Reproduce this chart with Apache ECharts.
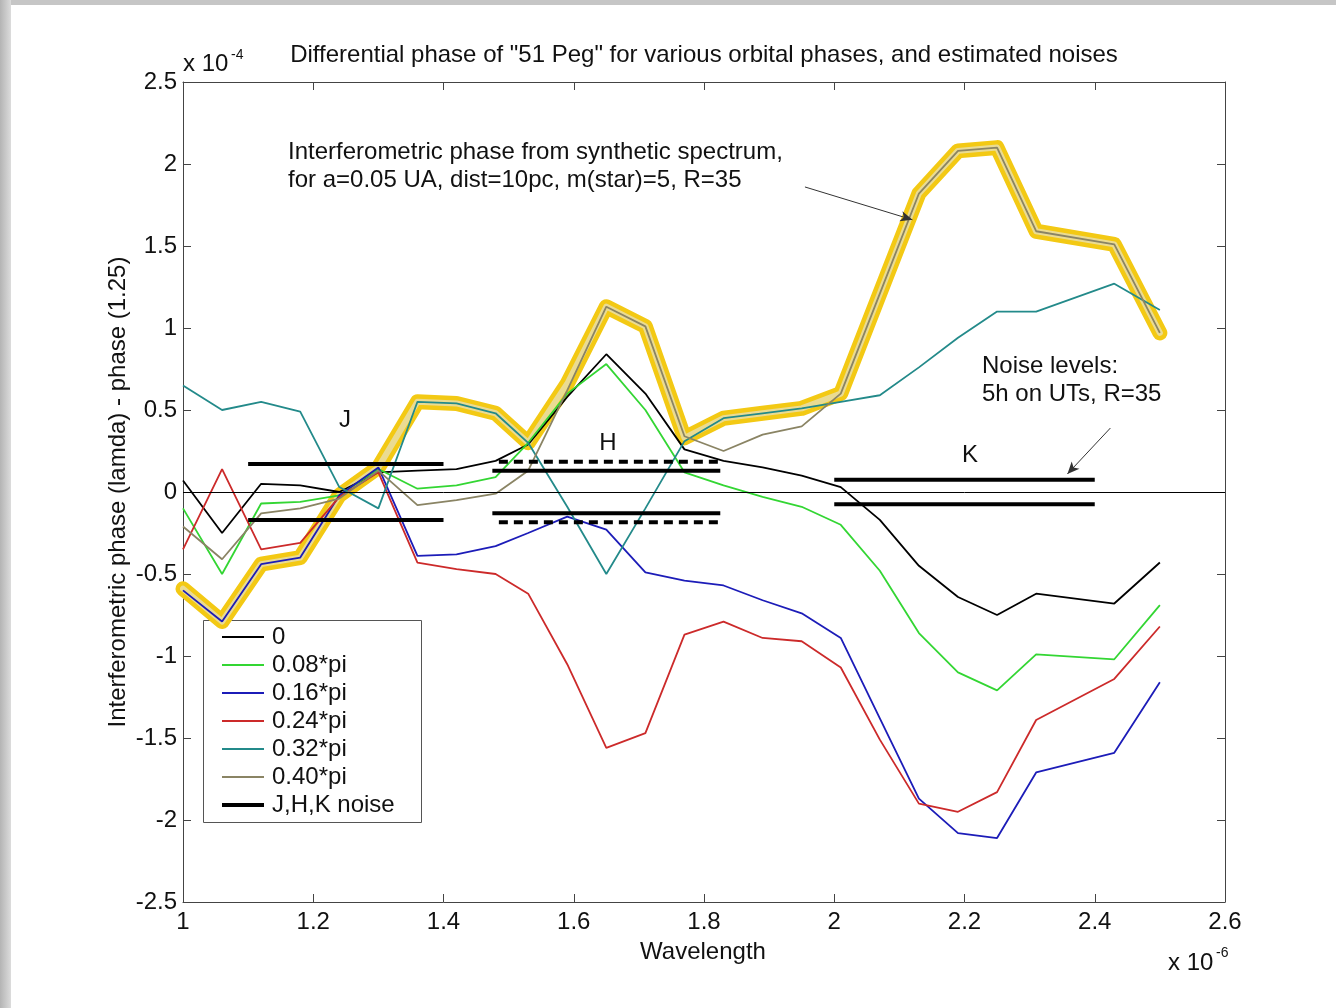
<!DOCTYPE html>
<html>
<head>
<meta charset="utf-8">
<script src="https://cdn.jsdelivr.net/npm/echarts@6/dist/echarts.min.js"></script>
<style>
  html, body { margin: 0; padding: 0; background: #fff; }
  #chart { width: 1336px; height: 1008px; }
</style>
</head>
<body>
<div id="chart"></div>
<script>
// wavelength samples (x 1e-6 m)
const wavelength = [1.00, 1.06, 1.12, 1.18, 1.24, 1.30, 1.36, 1.42, 1.48, 1.53, 1.59, 1.65, 1.71,
                    1.77, 1.83, 1.89, 1.95, 2.01, 2.07, 2.13, 2.19, 2.25, 2.31, 2.43, 2.50];

// differential phase (x 1e-4) for each orbital phase
const phase0   = [0.07, -0.25, 0.05, 0.04, 0.00, 0.12, 0.13, 0.14, 0.19, 0.29, 0.58, 0.84, 0.60,
                  0.26, 0.19, 0.15, 0.10, 0.03, -0.17, -0.45, -0.64, -0.75, -0.62, -0.68, -0.43];
const phase008 = [-0.10, -0.50, -0.07, -0.06, -0.02, 0.14, 0.02, 0.04, 0.09, 0.30, 0.60, 0.78, 0.50,
                  0.12, 0.04, -0.03, -0.09, -0.20, -0.48, -0.86, -1.10, -1.21, -0.99, -1.02, -0.69];
const phase016 = [-0.60, -0.79, -0.44, -0.40, -0.02, 0.15, -0.39, -0.38, -0.33, -0.25, -0.15, -0.23, -0.49,
                  -0.54, -0.57, -0.66, -0.74, -0.89, -1.38, -1.87, -2.08, -2.11, -1.71, -1.59, -1.16];
const phase024 = [-0.35, 0.14, -0.35, -0.31, -0.03, 0.12, -0.43, -0.47, -0.50, -0.62, -1.05, -1.56, -1.47,
                  -0.87, -0.79, -0.89, -0.91, -1.07, -1.51, -1.90, -1.95, -1.83, -1.39, -1.14, -0.82];
const phase032 = [0.65, 0.50, 0.55, 0.49, 0.03, -0.10, 0.55, 0.54, 0.48, 0.30, -0.09, -0.50, -0.10,
                  0.31, 0.45, 0.48, 0.51, 0.55, 0.59, 0.76, 0.94, 1.10, 1.10, 1.27, 1.11];
const phase040 = [-0.21, -0.41, -0.13, -0.10, -0.04, 0.13, -0.08, -0.05, -0.01, 0.13, 0.62, 1.13, 1.01,
                  0.34, 0.25, 0.35, 0.40, 0.60, 1.21, 1.82, 2.08, 2.10, 1.59, 1.51, 0.97];
// hand drawn yellow highlight ("synthetic spectrum" phase)
const highlight = [-0.59, -0.79, -0.44, -0.40, -0.02, 0.15, 0.55, 0.54, 0.48, 0.30, 0.66, 1.13, 1.01,
                   0.33, 0.45, 0.48, 0.51, 0.60, 1.21, 1.82, 2.08, 2.10, 1.59, 1.51, 0.97];

const seriesNames = ['0', '0.08*pi', '0.16*pi', '0.24*pi', '0.32*pi', '0.40*pi'];
const seriesColors = ['#000000', '#33d633', '#1c1cb8', '#cc2a2a', '#238a8a', '#8a8464'];

// noise bands: [start, end] wavelength and level
const jBand = [1.10, 1.40];       const jNoise = 0.17;
const hBand = [1.475, 1.825];     const hNoise = 0.13;
const hBandDashed = [1.485, 1.825]; const hNoiseDashed = 0.185;
const kBand = [2.00, 2.40];       const kNoise = 0.075;

const xTicks = { min: 1, max: 2.6, step: 0.2 };
const yTicks = { min: -2.5, max: 2.5, step: 0.5 };

const FONT = '"Liberation Sans", Arial, sans-serif';

const pts = ys => wavelength.map((x, i) => [x, ys[i]]);
const band = (range, level, dashed) => ({
  name: 'J,H,K noise',
  type: 'line',
  data: [[range[0], level], [range[1], level]],
  showSymbol: false,
  silent: true,
  z: 4,
  lineStyle: { color: '#000', width: 4, type: dashed ? [9, 6] : 'solid' },
  itemStyle: { color: '#000' }
});

const chart = echarts.init(document.getElementById('chart'), null, { renderer: 'canvas' });

const series = [
  {
    name: 'highlight', type: 'line', data: pts(highlight), showSymbol: false, silent: true, z: 1,
    lineStyle: { color: '#f3c914', width: 15, join: 'round', cap: 'round' }
  },
  {
    name: 'highlight-in', type: 'line', data: pts(highlight), showSymbol: false, silent: true, z: 1,
    lineStyle: { color: '#eadb92', width: 6, join: 'round', cap: 'round' }
  }
];

[phase0, phase008, phase016, phase024, phase032, phase040].forEach((ys, i) => {
  series.push({
    name: seriesNames[i], type: 'line', data: pts(ys), showSymbol: false, silent: true, z: 3,
    lineStyle: { color: seriesColors[i], width: 1.8 },
    itemStyle: { color: seriesColors[i] }
  });
});

// zero line
series[2].markLine = {
  silent: true, symbol: 'none', label: { show: false },
  lineStyle: { color: '#000', width: 1, type: 'solid' },
  data: [{ yAxis: 0 }]
};
// annotation arrows
series[7].markLine = {
  silent: true, symbol: ['none', 'arrow'], symbolSize: [8, 12], label: { show: false },
  lineStyle: { color: '#333', width: 1, type: 'solid' },
  data: [
    [{ coord: [1.955, 1.86] }, { coord: [2.12, 1.66] }],
    [{ coord: [2.424, 0.39] }, { coord: [2.358, 0.11] }]
  ]
};

series.push(band(jBand, jNoise), band(jBand, -jNoise),
            band(hBand, hNoise), band(hBand, -hNoise),
            band(hBandDashed, hNoiseDashed, true), band(hBandDashed, -hNoiseDashed, true),
            band(kBand, kNoise), band(kBand, -kNoise));

const axisCommon = {
  type: 'value',
  axisLine: { show: true, onZero: false, lineStyle: { color: '#444', width: 1 } },
  axisTick: { show: true, inside: true, length: 8, lineStyle: { color: '#444' } },
  splitLine: { show: false }
};
const txt = (text, x, y, opts) => ({
  type: 'text', x, y, silent: true,
  style: Object.assign({ text, font: '24px ' + FONT, fill: '#111', textAlign: 'left', textVerticalAlign: 'middle' }, opts || {})
});

const legendText = { fontSize: 24, fontFamily: FONT, color: '#111', lineHeight: 24, padding: [0, 0, 0, 3] };

chart.setOption({
  animation: false,
  backgroundColor: '#ffffff',
  grid: { left: 183, top: 82, right: 111, bottom: 106 },
  xAxis: [
    Object.assign({}, axisCommon, {
      position: 'bottom', min: xTicks.min, max: xTicks.max, interval: xTicks.step,
      axisLabel: { fontSize: 24, fontFamily: FONT, color: '#111', margin: 8,
                   formatter: v => String(+v.toFixed(1)) }
    }),
    Object.assign({}, axisCommon, {
      position: 'top', min: xTicks.min, max: xTicks.max, interval: xTicks.step,
      axisLabel: { show: false }
    })
  ],
  yAxis: [
    Object.assign({}, axisCommon, {
      position: 'left', min: yTicks.min, max: yTicks.max, interval: yTicks.step,
      axisLabel: { fontSize: 24, fontFamily: FONT, color: '#111', margin: 6,
                   formatter: v => String(+v.toFixed(1)) }
    }),
    Object.assign({}, axisCommon, {
      position: 'right', min: yTicks.min, max: yTicks.max, interval: yTicks.step,
      axisLabel: { show: false }
    })
  ],
  legend: [
    {
      data: seriesNames, orient: 'vertical', left: 217, top: 620,
      icon: 'rect', itemWidth: 42, itemHeight: 2, itemGap: 4,
      textStyle: legendText, selectedMode: false
    },
    {
      data: ['J,H,K noise'], orient: 'vertical', left: 217, top: 788,
      icon: 'rect', itemWidth: 42, itemHeight: 4, itemGap: 4,
      textStyle: legendText, selectedMode: false
    }
  ],
  graphic: [
    { type: 'rect', shape: { x: 0, y: 0, width: 1336, height: 5 }, style: { fill: '#c6c6c6' }, silent: true },
    { type: 'rect', shape: { x: 0, y: 0, width: 11, height: 1008 }, silent: true,
      style: { fill: new echarts.graphic.LinearGradient(0, 0, 1, 0, [
        { offset: 0, color: '#b4b4b4' }, { offset: 1, color: '#dcdcdc' }]) } },
    { type: 'rect', shape: { x: 203.5, y: 620.5, width: 218, height: 202 }, silent: true,
      style: { fill: 'none', stroke: '#555', lineWidth: 1 } },
    txt('Differential phase of "51 Peg" for various orbital phases, and estimated noises', 704, 55,
        { textAlign: 'center' }),
    txt('x 10', 183, 64),
    txt('-4', 231, 55, { font: '14px ' + FONT }),
    txt('x 10', 1168, 963),
    txt('-6', 1216, 953, { font: '14px ' + FONT }),
    txt('Wavelength', 703, 952, { textAlign: 'center' }),
    {
      type: 'text', x: 118, y: 492, rotation: Math.PI / 2, silent: true,
      style: { text: 'Interferometric phase (lamda) - phase (1.25)', font: '24px ' + FONT, fill: '#111',
               textAlign: 'center', textVerticalAlign: 'middle' }
    },
    txt('Interferometric phase from synthetic spectrum,', 288, 152),
    txt('for a=0.05 UA, dist=10pc, m(star)=5, R=35', 288, 180),
    txt('Noise levels:', 982, 366),
    txt('5h on UTs, R=35', 982, 394),
    txt('J', 345, 420, { textAlign: 'center' }),
    txt('H', 608, 443, { textAlign: 'center' }),
    txt('K', 970, 455, { textAlign: 'center' })
  ],
  series: series
});
</script>
</body>
</html>
